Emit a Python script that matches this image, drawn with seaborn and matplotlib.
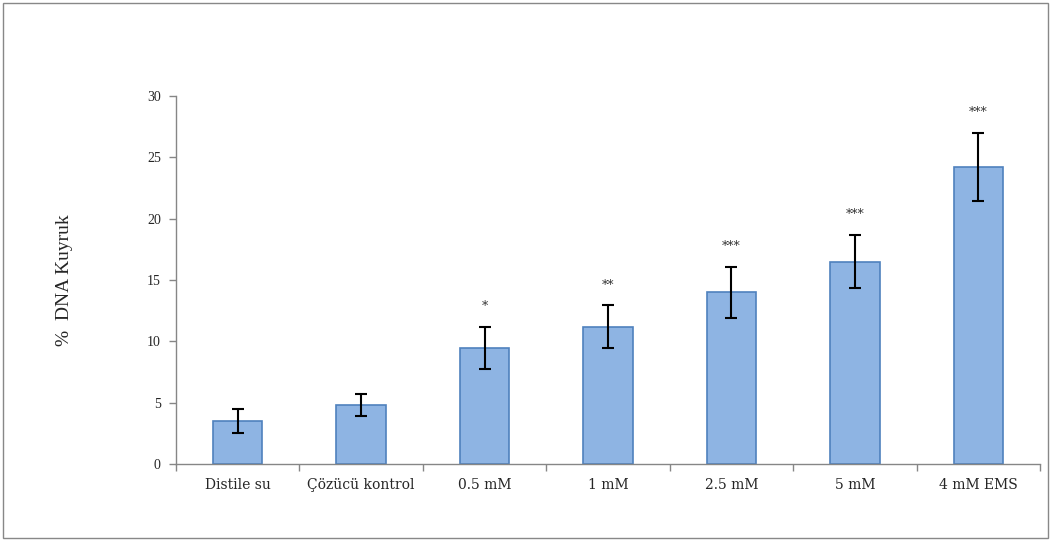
import pandas as pd
import matplotlib
matplotlib.use("Agg")
import matplotlib.pyplot as plt
import seaborn as sns
from matplotlib.patches import Rectangle

# Data
groups = ["Distile su", "Çözücü kontrol", "0.5 mM", "1 mM", "2.5 mM", "5 mM", "4 mM EMS"]
tail_dna = [3.5, 4.8, 9.45, 11.2, 14.0, 16.5, 24.2]
sd = [1.0, 0.87, 1.7, 1.73, 2.07, 2.15, 2.76]
stars = ["", "", "*", "**", "***", "***", "***"]

df = pd.DataFrame({"group": groups, "value": tail_dna, "sd": sd})

sns.set_style("white")
plt.rcParams["font.family"] = ["Liberation Serif", "DejaVu Serif"]

fig = plt.figure(figsize=(10.51, 5.41), dpi=100)
ax = fig.add_axes([0.1675, 0.1423, 0.8220, 0.6803])

sns.barplot(data=df, x="group", y="value", color="#8EB4E3", saturation=1,
            edgecolor="#4F81BD", linewidth=1.2, width=0.4, errorbar=None, ax=ax)
ax.errorbar(range(len(groups)), df["value"], yerr=df["sd"], fmt="none",
            ecolor="black", elinewidth=1.5, capsize=4, capthick=1.5)

for i, s in enumerate(stars):
    if s:
        ax.annotate(s, (i, tail_dna[i] + sd[i]), xytext=(0, 10), textcoords="offset points",
                    ha="center", va="bottom", fontsize=9, color="#333333",
                    family=["DejaVu Serif"])

ax.set_ylim(0, 30)
ax.set_yticks(range(0, 31, 5))
ax.set_xlim(-0.5, len(groups) - 0.5)
ax.set_xticks(range(len(groups)))
ax.set_xticklabels(groups, fontsize=10, family=["DejaVu Serif"])
ax.set_xticks([x - 0.5 for x in range(len(groups) + 1)], minor=True)
ax.tick_params(axis="x", which="major", length=0, pad=10)
ax.tick_params(axis="x", which="minor", bottom=True, length=5, color="#868686",
               direction="out", width=1)
ax.tick_params(axis="y", left=True, length=5, color="#868686", direction="out",
               width=1, labelsize=10, pad=6)
ax.set_xlabel("")
ax.set_ylabel("%  DNA Kuyruk", fontsize=14, labelpad=53)

for side in ["top", "right"]:
    ax.spines[side].set_visible(False)
for side in ["left", "bottom"]:
    ax.spines[side].set_color("#868686")
    ax.spines[side].set_linewidth(1)

# outer frame around the chart area
fig.patches.append(Rectangle((0.003, 0.005), 0.994, 0.99, transform=fig.transFigure,
                             fill=False, edgecolor="#888888", linewidth=1))

fig.savefig("out.png", dpi=100)
